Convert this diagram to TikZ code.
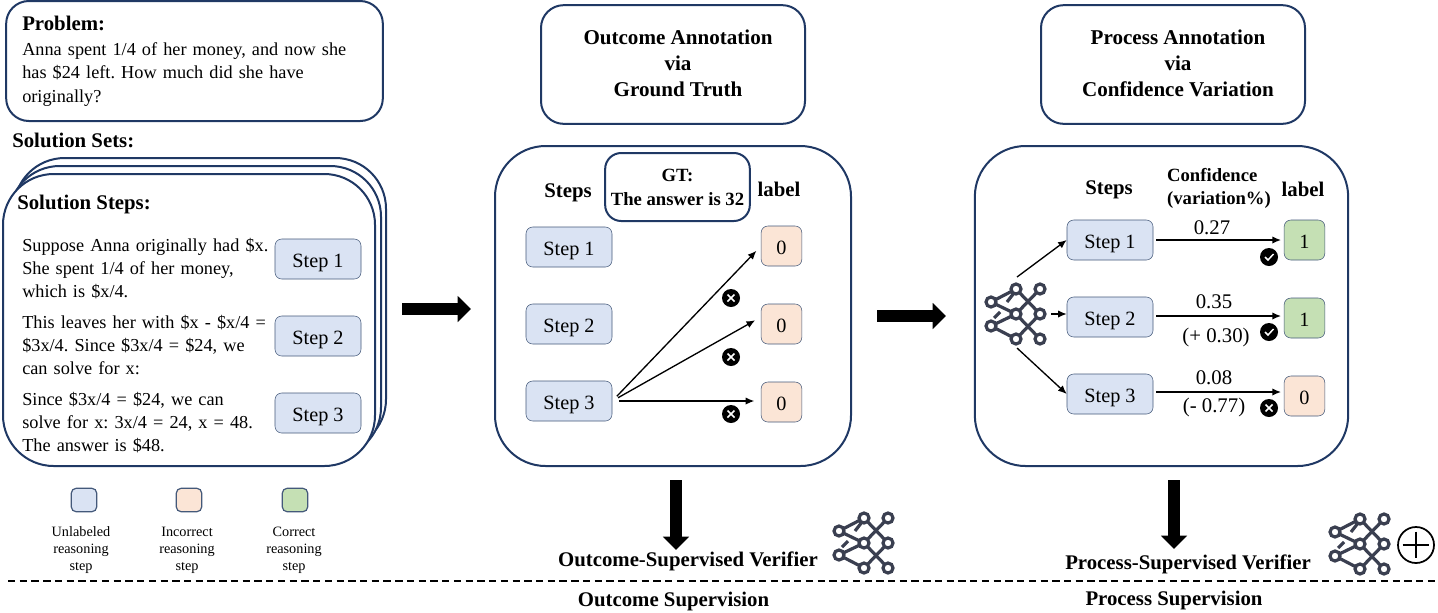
\documentclass[tikz,border=0pt]{standalone}
\usepackage{fontspec}
\setmainfont{Liberation Serif}
\usetikzlibrary{arrows.meta,positioning,calc}
\definecolor{Navy}{HTML}{1F3864}
\definecolor{Edge}{HTML}{44597A}
\definecolor{Icon}{HTML}{3A3F50}
\definecolor{SoftBlue}{HTML}{DAE3F3}
\definecolor{SoftRed}{HTML}{FBE5D6}
\definecolor{SoftGreen}{HTML}{C5E0B4}
\frenchspacing

\tikzset{
  netpic/.pic={
    \draw[Icon,line width=2.4pt]
      (-25,-12) -- (0,-25) (-25,-12) -- (0,0) (-25,12) -- (0,0) (-25,12) -- (0,25)
      (0,-25) -- (24,0) (0,0) -- (24,-25) (0,0) -- (24,25) (0,25) -- (24,0)
      (-9,-12) -- (-2,-21) (-22,4) -- (-16,-2);
    \foreach \a/\b in {-25/-12,-25/12,0/-25,0/0,0/25,24/-25,24/0,24/25}
      \draw[Icon,line width=2.4pt,fill=white] (\a,\b) circle (5);
  }
}

\begin{document}
\begin{tikzpicture}[x=0.75pt,y=-0.75pt,font=\fontsize{13.7}{17}\selectfont,
  panel/.style={rounded corners=38pt,draw=Navy,line width=1.5pt,fill=white,inner sep=0pt},
  header/.style={rounded corners=17pt,draw=Navy,line width=1.5pt,fill=white,inner sep=0pt,align=center,font=\fontsize{15.8}{19.5}\selectfont\bfseries},
  stepbox/.style={rounded corners=5pt,draw=Edge,fill=SoftBlue,minimum width=64.5pt,minimum height=30pt,inner sep=0pt,text height=13pt,text depth=1pt,font=\fontsize{15.2}{17}\selectfont},
  labelbad/.style={rounded corners=5pt,draw=Edge,fill=SoftRed,minimum width=30.5pt,minimum height=30pt,inner sep=0pt,text height=14pt,text depth=1pt,font=\fontsize{15.2}{17}\selectfont},
  labelgood/.style={labelbad,fill=SoftGreen},
  legendbox/.style={rounded corners=3.5pt,draw=Edge,line width=0.9pt,minimum width=19pt,minimum height=17.5pt,inner sep=0pt},
  legendtext/.style={align=center,font=\fontsize{10.7}{12.7}\selectfont},
  bold/.style={font=\fontsize{15.6}{17}\selectfont\bfseries},
  body/.style={anchor=north west,align=left,inner sep=0pt,text width=205pt,font=\fontsize{13.7}{17.4}\selectfont},
  num/.style={inner sep=0pt,font=\fontsize{15.6}{17}\selectfont},
  badge/.style={circle,fill=black,minimum size=13.5pt,inner sep=0pt},
  arrow/.style={-{Latex[length=6.5pt,width=5.5pt]},line width=1pt,draw=black},
  bigarrow/.style={-{Triangle[length=10pt,width=19pt]},line width=9.5pt,draw=black}
]
\useasboundingbox (0,0) rectangle (1438,612);

% left column
\node[panel,rounded corners=17pt,minimum width=282.5pt,minimum height=90pt] (problemBox) at (194.5,61) {};
\node[anchor=west,inner sep=0pt,bold] (problemHead) at (22,23) {Problem:};
\node[body,text width=270pt,font=\fontsize{13.7}{17.7}\selectfont] (problemText) at (22,42) {Anna spent 1/4 of her money, and now she\\has \$24 left. How much did she have\\originally?};
\node[anchor=west,inner sep=0pt,bold] (setsHead) at (12,140) {Solution Sets:};
\node[panel,minimum width=279pt,minimum height=219pt] (stackBack) at (200,304) {};
\node[panel,minimum width=279pt,minimum height=219pt] (stackMid) at (195,312) {};
\node[panel,minimum width=279pt,minimum height=219pt] (stackFront) at (189,320) {};
\node[anchor=west,inner sep=0pt,bold] (stepsHead) at (17,204) {Solution Steps:};
\node[body] (textA) at (22,238) {Suppose Anna originally had \$x.\\She spent 1/4 of her money,\\which is \$x/4.};
\node[body] (textB) at (22,315) {This leaves her with \$x - \$x/4 =\\\$3x/4. Since \$3x/4 = \$24, we\\can solve for x:};
\node[body] (textC) at (22,392) {Since \$3x/4 = \$24, we can\\solve for x: 3x/4 = 24, x = 48.\\The answer is \$48.};
\node[stepbox] (leftA) at (318,259) {Step 1};
\node[stepbox] (leftB) at (318,336) {Step 2};
\node[stepbox] (leftC) at (318,413) {Step 3};

% legend
\node[legendbox,fill=SoftBlue] (keyBlue) at (84,500) {};
\node[legendbox,fill=SoftRed] (keyRed) at (189,500) {};
\node[legendbox,fill=SoftGreen] (keyGreen) at (295,500) {};
\node[legendtext] (keyBlueText) at (81,550) {Unlabeled\\reasoning\\step};
\node[legendtext] (keyRedText) at (187,550) {Incorrect\\reasoning\\step};
\node[legendtext] (keyGreenText) at (294,550) {Correct\\reasoning\\step};

% outcome column
\node[header,minimum width=198pt,minimum height=89pt] (outHead) at (673,64.5) {};
\node[inner sep=0pt,align=center,font=\fontsize{15.8}{19.6}\selectfont\bfseries] (outTitle) at (678,63) {Outcome Annotation\\via\\Ground Truth};
\node[panel,minimum width=267pt,minimum height=240pt] (outPanel) at (673,306) {};
\node[header,rounded corners=12pt,minimum width=108.5pt,minimum height=51pt,font=\fontsize{14}{18}\selectfont\bfseries] (gtBox) at (677.5,187) {GT:\\The answer is 32};
\node[bold] (outSteps) at (568,193) {Steps};
\node[bold] (outLabel) at (779,189) {label};
\foreach \i/\y in {1/247,2/324,3/401} \node[stepbox] (outS\i) at (569,\y) {Step \i};
\foreach \i/\y in {1/246,2/324,3/402} \node[labelbad] (outL\i) at (781.5,\y) {0};
\foreach \i/\y in {1/246,2/317,3/401} {
  \coordinate (outT\i) at (761,\y);
  \draw[arrow,shorten <=5pt,shorten >=5pt] (outS3.east) -- (outT\i);
}
\foreach \i/\y in {1/298,2/357,3/414} {
  \node[badge] (outX\i) at (731,\y) {};
  \draw[white,line width=1.1pt] ($(outX\i)+(-3.5,-3.5)$) -- ($(outX\i)+(3.5,3.5)$) ($(outX\i)+(-3.5,3.5)$) -- ($(outX\i)+(3.5,-3.5)$);
}

% process column
\node[header,minimum width=198pt,minimum height=89pt] (procHead) at (1173,64.5) {};
\node[inner sep=0pt,align=center,font=\fontsize{15.8}{19.6}\selectfont\bfseries] (procTitle) at (1178,63) {Process Annotation\\via\\Confidence Variation};
\node[panel,minimum width=280pt,minimum height=240pt] (procPanel) at (1161.5,306) {};
\node[bold] (procSteps) at (1109,190) {Steps};
\node[inner sep=0pt,align=left,font=\fontsize{14}{17.2}\selectfont\bfseries] (procConf) at (1219,188) {Confidence\\(variation\%)};
\node[bold] (procLabel) at (1303,189) {label};
\foreach \i/\y in {1/240,2/317,3/394} \node[stepbox] (procS\i) at (1110,\y) {Step \i};
\node[labelgood] (procL1) at (1304.5,240) {1};
\node[labelgood] (procL2) at (1304.5,318) {1};
\node[labelbad] (procL3) at (1304.5,396) {0};
\foreach \i/\y in {1/240,2/316,3/392} {
  \coordinate (procA\i) at (1156,\y);
  \coordinate (procB\i) at (1281,\y);
  \draw[arrow] (procA\i) -- (procB\i);
}
\node[num] (valA) at (1212,228) {0.27};
\node[num] (valB) at (1214,302) {0.35};
\node[num] (varB) at (1216,337) {(+ 0.30)};
\node[num] (valC) at (1214,378) {0.08};
\node[num] (varC) at (1214,407) {(- 0.77)};
\foreach \i/\y in {1/257,2/332} {
  \node[badge] (procC\i) at (1269,\y) {};
  \draw[white,line width=1.1pt] ($(procC\i)+(-4,0)$) -- ($(procC\i)+(-1,3)$) -- ($(procC\i)+(4.5,-3)$);
}
\node[badge] (procX3) at (1269,408) {};
\draw[white,line width=1.1pt] ($(procX3)+(-3.5,-3.5)$) -- ($(procX3)+(3.5,3.5)$) ($(procX3)+(-3.5,3.5)$) -- ($(procX3)+(3.5,-3.5)$);
\pic (netMain) at (1016,314) {netpic};
\coordinate (netUp) at (1017,277);
\coordinate (netMid) at (1051,314);
\coordinate (netDown) at (1017,348);
\draw[arrow] (netUp) -- (procS1.west);
\draw[arrow] (netMid) -- (procS2.west |- netMid);
\draw[arrow] (netDown) -- (procS3.west);

% block arrows
\coordinate (blockA) at (402,309);
\coordinate (blockB) at (471,309);
\coordinate (blockC) at (877,316);
\coordinate (blockD) at (946,316);
\coordinate (blockE) at (676,480);
\coordinate (blockF) at (676,550);
\coordinate (blockG) at (1174,480);
\coordinate (blockH) at (1174,549);
\draw[bigarrow] (blockA) -- (blockB);
\draw[bigarrow] (blockC) -- (blockD);
\draw[bigarrow] (blockE) -- (blockF);
\draw[bigarrow] (blockG) -- (blockH);

% bottom row
\node[bold] (outVerifier) at (688,561) {Outcome-Supervised Verifier};
\node[bold] (procVerifier) at (1188,564) {Process-Supervised Verifier};
\pic (netOut) at (864,543) {netpic};
\pic (netProc) at (1360,544) {netpic};
\node[circle,draw=black,line width=1.3pt,minimum size=27pt,inner sep=0pt] (plusMark) at (1416,545) {};
\draw[line width=1.1pt] (plusMark.north) ++(0,5.5) -- ($(plusMark.south)+(0,-5.5)$) (plusMark.west) ++(5.5,0) -- ($(plusMark.east)+(-5.5,0)$);
\coordinate (splitA) at (8,581);
\coordinate (splitB) at (1438,581);
\draw[line width=1pt,dash pattern=on 5.5pt off 3.3pt] (splitA) -- (splitB);
\node[bold] (outBottom) at (673.5,601) {Outcome Supervision};
\node[bold] (procBottom) at (1174,600) {Process Supervision};
\end{tikzpicture}
\end{document}
